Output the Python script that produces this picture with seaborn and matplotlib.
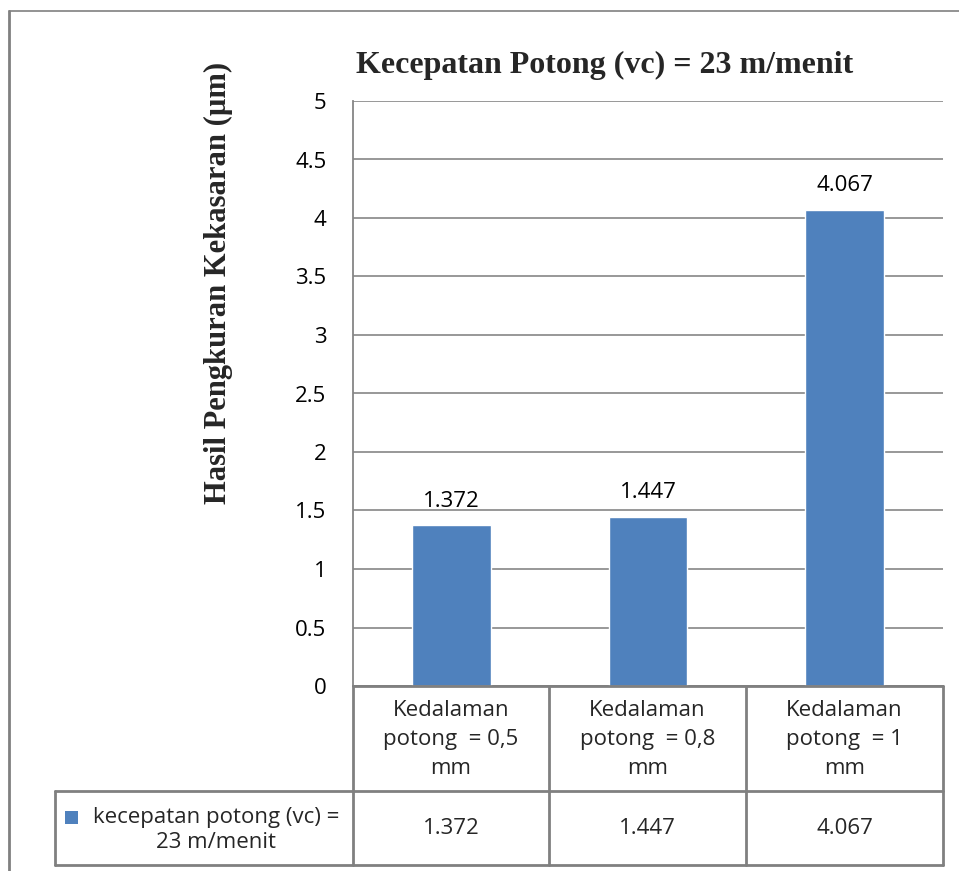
import matplotlib
matplotlib.use("Agg")
import matplotlib.pyplot as plt
import seaborn as sns
import pandas as pd
from matplotlib.patches import Rectangle
from matplotlib.lines import Line2D

# ---- data ----
categories = ["Kedalaman\npotong  = 0,5\nmm",
              "Kedalaman\npotong  = 0,8\nmm",
              "Kedalaman\npotong  = 1\nmm"]
values = [1.372, 1.447, 4.067]
value_labels = ["1.372", "1.447", "4.067"]
series_name = "kecepatan potong (vc) =\n23 m/menit"
title = "Kecepatan Potong (vc) = 23 m/menit"
ylabel = "Hasil Pengkuran Kekasaran (µm)"
yticks = [0, 0.5, 1, 1.5, 2, 2.5, 3, 3.5, 4, 4.5, 5]
ytick_labels = ["0", "0.5", "1", "1.5", "2", "2.5", "3", "3.5", "4", "4.5", "5"]

df = pd.DataFrame({"cat": categories, "val": values})

sns.set_theme(style="white")
plt.rcParams["font.family"] = ["Open Sans", "DejaVu Sans"]

W, H = 959, 871
fig = plt.figure(figsize=(W / 100, H / 100), dpi=100)

def fx(px):
    return px / W

def fy(py):
    return 1 - py / H

FS = 16

# plot area in pixels
L, R, T, B = 353, 943, 101, 686
ax = fig.add_axes([fx(L), fy(B), fx(R - L), (B - T) / H])

blue = "#4F81BD"
grid_c = "#868686"
border_c = "#808080"

sns.barplot(data=df, x="cat", y="val", color=blue, width=0.4,
            saturation=1, ax=ax, zorder=3)
ax.set_xlim(-0.5, 2.5)
ax.set_ylim(0, 5)
ax.set_yticks(yticks)
ax.set_yticklabels(ytick_labels, fontsize=FS, color="black")
ax.tick_params(axis="y", length=0, pad=19)
ax.set_xticks([])
ax.set_xlabel("")
ax.set_ylabel("")
ax.yaxis.grid(True, color=grid_c, linewidth=1.2, zorder=0)
ax.set_axisbelow(True)
for s in ["top", "right"]:
    ax.spines[s].set_visible(False)
for s in ["left", "bottom"]:
    ax.spines[s].set_color(grid_c)
    ax.spines[s].set_linewidth(1.3)

# data labels
for i, (v, lab) in enumerate(zip(values, value_labels)):
    ax.annotate(lab, (i, v), xytext=(0, 10), textcoords="offset points",
                ha="center", va="bottom", fontsize=FS, color="black")

# title & y label
fig.text(fx(605), fy(65), title, ha="center", va="center",
         fontsize=23, fontweight="bold", family="Liberation Serif")
fig.text(fx(218), fy(283), ylabel, ha="center", va="center", rotation=90,
         fontsize=22, fontweight="bold", family="Liberation Serif")

# data table
col_edges = [353, 549, 746, 943]
row1_top, row1_bot, row2_bot = 686, 791, 865
lw = 2.0
lines = []
lines.append(((L, row1_bot), (R, row1_bot)))
lines.append(((55, row2_bot), (R, row2_bot)))
lines.append(((55, row1_bot), (L, row1_bot)))
lines.append(((L, row1_top), (R, row1_top)))
for x in col_edges:
    lines.append(((x, row1_top), (x, row2_bot)))
lines.append(((55, row1_bot), (55, row2_bot)))
for (x0, y0), (x1, y1) in lines:
    fig.add_artist(Line2D([fx(x0), fx(x1)], [fy(y0), fy(y1)],
                          color=border_c, linewidth=lw))

for i, (cat, lab) in enumerate(zip(categories, value_labels)):
    cx = (col_edges[i] + col_edges[i + 1]) / 2
    fig.text(fx(cx), fy(739), cat, ha="center",
             va="center", fontsize=FS, linespacing=1.5)
    fig.text(fx(cx), fy((row1_bot + row2_bot) / 2), lab, ha="center",
             va="center", fontsize=FS)

# legend key + series name
fig.add_artist(Rectangle((fx(65), fy(824)), fx(13), 13 / H,
                         facecolor=blue, edgecolor="none"))
fig.text(fx(216), fy(830), series_name, ha="center", va="center",
         fontsize=FS, linespacing=1.2)

# outer frame (top and left visible)
fig.add_artist(Line2D([fx(9), fx(959)], [fy(11), fy(11)], color=border_c, linewidth=1.2))
fig.add_artist(Line2D([fx(9), fx(9)], [fy(11), fy(871)], color=border_c, linewidth=2))

fig.savefig("out.png", dpi=100, facecolor="white")
